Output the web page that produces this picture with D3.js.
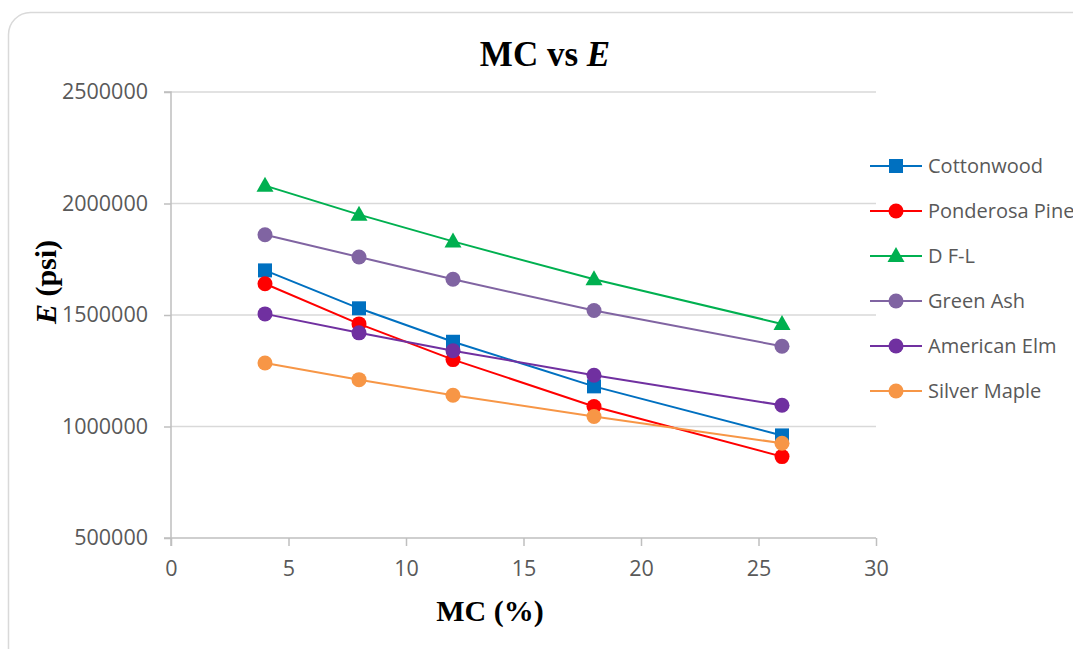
<!DOCTYPE html>
<html><head><meta charset="utf-8">
<script src="https://cdn.jsdelivr.net/npm/d3@7"></script>
<style>html,body{margin:0;padding:0;background:#fff;overflow:hidden}</style>
</head><body><svg id="c" width="1073" height="649"></svg>
<script>
const mc = [4, 8, 12, 18, 26];
const seriesNames = ["Cottonwood","Ponderosa Pine","D F-L","Green Ash","American Elm","Silver Maple"];
const cottonwood   = [1700000,1530000,1380000,1180000,960000];
const ponderosa    = [1640000,1460000,1300000,1090000,865000];
const dfl          = [2080000,1950000,1830000,1660000,1460000];
const greenAsh     = [1860000,1760000,1660000,1520000,1360000];
const americanElm  = [1505000,1420000,1340000,1230000,1095000];
const silverMaple  = [1285000,1210000,1140000,1045000,925000];
const xTicks = [0,5,10,15,20,25,30];
const yTicks = [500000,1000000,1500000,2000000,2500000];
const colors = ["#0070C0","#FF0000","#00B050","#8064A2","#7030A0","#F79646"];
const shapes = ["square","circle","triangle","circle","circle","circle"];
const values = [cottonwood,ponderosa,dfl,greenAsh,americanElm,silverMaple];

const svg = d3.select("#c");
const L=171,R=876,T=92,B=538;
const x = d3.scaleLinear().domain([0,30]).range([L,R]);
const y = d3.scaleLinear().domain([500000,2500000]).range([B,T]);

svg.append("rect").attr("x",8.5).attr("y",12.5).attr("width",1100).attr("height",700)
  .attr("rx",22).attr("fill","#fff").attr("stroke","#d9d9d9").attr("stroke-width",1.5);

// gridlines
svg.append("g").selectAll("line").data(yTicks.filter(d=>d>500000)).join("line")
  .attr("x1",L).attr("x2",R).attr("y1",d=>y(d)).attr("y2",d=>y(d))
  .attr("stroke","#d9d9d9").attr("stroke-width",1.5);

const font = "'Open Sans', sans-serif";
// y axis
const ya = svg.append("g").attr("transform",`translate(${L},0)`)
  .call(d3.axisLeft(y).tickValues(yTicks).tickSize(7).tickPadding(16).tickFormat(d3.format("d")));
ya.select(".domain").attr("stroke","#bfbfbf").attr("stroke-width",1.5).attr("d",`M-7,${T}H0V${B+8}`);
ya.selectAll(".tick line").attr("stroke","#bfbfbf").attr("stroke-width",1.5);
ya.selectAll("text").attr("fill","#595959").style("font-family",font).style("font-size","21.5px");

// x axis
const xa = svg.append("g").attr("transform",`translate(0,${B})`)
  .call(d3.axisBottom(x).tickValues(xTicks).tickSize(8).tickPadding(15));
xa.select(".domain").attr("stroke","#bfbfbf").attr("stroke-width",1.5).attr("d",`M${L-7},0H${R}`);
xa.selectAll(".tick line").attr("stroke","#bfbfbf").attr("stroke-width",1.5);
xa.selectAll("text").attr("fill","#595959").style("font-family",font).style("font-size","21.5px");

// lines and markers
const line = d3.line().x((d,i)=>x(mc[i])).y(d=>y(d));
function marker(g, shape, color, cx, cy){
  if(shape==="square") g.append("rect").attr("x",cx-7).attr("y",cy-7).attr("width",14).attr("height",14).attr("fill",color);
  else if(shape==="circle") g.append("circle").attr("cx",cx).attr("cy",cy).attr("r",7.5).attr("fill",color);
  else g.append("path").attr("d",`M${cx},${cy-9}L${cx+8.5},${cy+6}L${cx-8.5},${cy+6}Z`).attr("fill",color);
}
values.forEach((vals,s)=>{
  const g = svg.append("g");
  g.append("path").attr("d",line(vals)).attr("fill","none").attr("stroke",colors[s]).attr("stroke-width",2);
  vals.forEach((v,i)=>marker(g,shapes[s],colors[s],x(mc[i]),y(v)));
});

// legend
seriesNames.forEach((n,s)=>{
  const ly = 166 + s*45;
  const g = svg.append("g");
  g.append("line").attr("x1",870).attr("x2",922).attr("y1",ly).attr("y2",ly).attr("stroke",colors[s]).attr("stroke-width",2);
  marker(g,shapes[s],colors[s],896,ly);
  g.append("text").attr("x",928).attr("y",ly).attr("dy","0.36em").attr("fill","#595959")
    .style("font-family",font).style("font-size","20px").text(n);
});

// title
const serif = "'Liberation Serif','Times New Roman',serif";
const t = svg.append("text").attr("x",545).attr("y",66).attr("text-anchor","middle")
  .style("font-family",serif).style("font-weight","bold").style("font-size","35px").attr("fill","#000");
t.append("tspan").text("MC vs ");
t.append("tspan").style("font-style","italic").text("E");

// axis titles
svg.append("text").attr("x",490).attr("y",621).attr("text-anchor","middle")
  .style("font-family",serif).style("font-weight","bold").style("font-size","30px").text("MC (%)");
const yt = svg.append("text").attr("transform","translate(56,282) rotate(-90)").attr("text-anchor","middle")
  .style("font-family",serif).style("font-weight","bold").style("font-size","30px");
yt.append("tspan").style("font-style","italic").text("E");
yt.append("tspan").text(" (psi)");
</script></body></html>
